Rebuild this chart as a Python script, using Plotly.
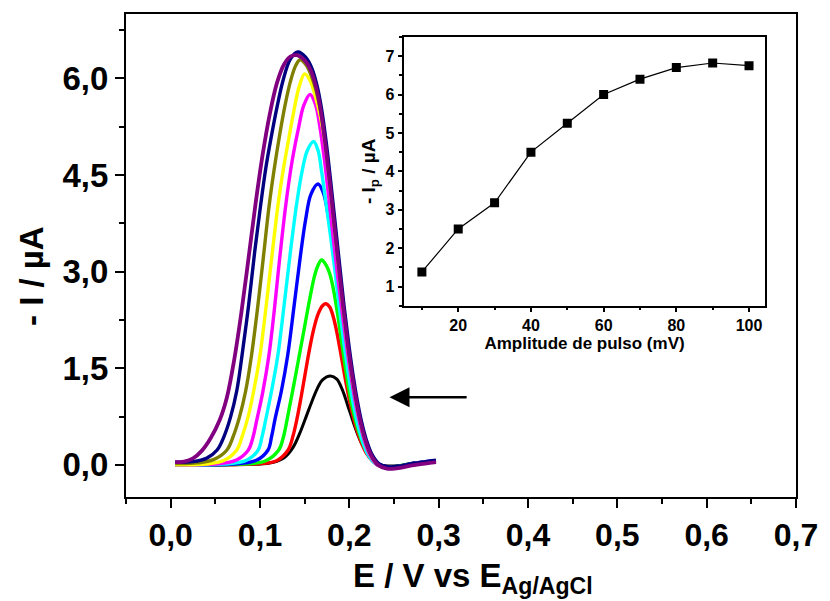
import plotly.graph_objects as go

# ---------------- data ----------------
# DPV curves (E / V, -I / uA); order: black ... purple
black_x = [0.005, 0.060, 0.098, 0.115, 0.127, 0.137, 0.146, 0.152, 0.158, 0.164, 0.170, 0.179,
           0.186, 0.192, 0.198, 0.204, 0.210, 0.216, 0.222, 0.229, 0.237, 0.246, 0.258, 0.272, 0.285, 0.297]
black_y = [0.01, 0.01, 0.01, 0.04, 0.11, 0.27, 0.54, 0.76, 0.98, 1.18, 1.32, 1.38,
           1.33, 1.17, 0.93, 0.68, 0.45, 0.27, 0.13, 0.04, -0.01, -0.02, -0.01, 0.02, 0.04, 0.05]

red_x = [0.005, 0.090, 0.118, 0.1315, 0.137, 0.1415, 0.146, 0.151, 0.1555, 0.160, 0.165, 0.170, 0.174,
         0.178, 0.182, 0.186, 0.190, 0.194, 0.198, 0.203, 0.208, 0.213, 0.219, 0.226, 0.234, 0.243, 0.256, 0.271, 0.285, 0.297]
red_y = [0.00, 0.01, 0.06, 0.23, 0.45, 0.72, 1.05, 1.45, 1.80, 2.10, 2.34, 2.47, 2.50,
         2.45, 2.30, 2.06, 1.76, 1.45, 1.15, 0.82, 0.56, 0.36, 0.18, 0.06, -0.01, -0.03, -0.02, 0.02, 0.04, 0.05]

green_x = [0.005, 0.080, 0.106, 0.121, 0.126, 0.131, 0.137, 0.1436, 0.150, 0.156, 0.161, 0.165, 0.169,
           0.174, 0.178, 0.182, 0.187, 0.192, 0.197, 0.202, 0.207, 0.212, 0.218, 0.225, 0.233, 0.242, 0.255, 0.270, 0.285, 0.297]
green_y = [0.00, 0.01, 0.06, 0.23, 0.42, 0.75, 1.18, 1.67, 2.15, 2.60, 2.93, 3.10, 3.18,
           3.10, 2.97, 2.74, 2.33, 1.85, 1.38, 0.98, 0.68, 0.45, 0.24, 0.08, -0.01, -0.03, -0.02, 0.02, 0.04, 0.05]

blue_x = [0.005, 0.070, 0.096, 0.109, 0.113, 0.117, 0.124, 0.131, 0.138, 0.145, 0.151, 0.157, 0.165,
          0.171, 0.176, 0.180, 0.185, 0.190, 0.195, 0.200, 0.205, 0.210, 0.215, 0.221, 0.229, 0.242, 0.255, 0.270, 0.285, 0.297]
blue_y = [0.00, 0.01, 0.07, 0.23, 0.44, 0.72, 1.15, 1.70, 2.45, 3.22, 3.80, 4.20, 4.36,
          4.22, 3.90, 3.55, 3.05, 2.50, 1.98, 1.50, 1.06, 0.71, 0.44, 0.20, 0.04, -0.03, -0.02, 0.02, 0.05, 0.06]

cyan_x = [0.005, 0.060, 0.085, 0.098, 0.102, 0.1064, 0.113, 0.120, 0.127, 0.134, 0.141, 0.147, 0.153, 0.160,
          0.165, 0.169, 0.174, 0.179, 0.184, 0.189, 0.194, 0.199, 0.204, 0.209, 0.214, 0.220, 0.228, 0.242, 0.255, 0.270, 0.285, 0.297]
cyan_y = [0.00, 0.01, 0.07, 0.23, 0.42, 0.70, 1.15, 1.70, 2.48, 3.30, 4.05, 4.55, 4.88, 5.02,
          4.88, 4.55, 4.05, 3.55, 3.00, 2.42, 1.88, 1.40, 0.98, 0.65, 0.40, 0.18, 0.03, -0.04, -0.03, 0.01, 0.04, 0.05]

magenta_x = [0.005, 0.050, 0.073, 0.087, 0.092, 0.0965, 0.103, 0.110, 0.116, 0.122, 0.129, 0.136, 0.143, 0.149, 0.156,
             0.162, 0.167, 0.172, 0.177, 0.182, 0.187, 0.192, 0.197, 0.202, 0.207, 0.212, 0.217, 0.223, 0.231, 0.242, 0.255, 0.270, 0.285, 0.297]
magenta_y = [0.00, 0.01, 0.07, 0.23, 0.42, 0.70, 1.12, 1.70, 2.40, 3.20, 4.05, 4.72, 5.22, 5.58, 5.75,
             5.60, 5.25, 4.75, 4.15, 3.52, 2.92, 2.36, 1.84, 1.36, 0.95, 0.63, 0.37, 0.15, 0.00, -0.04, -0.03, 0.01, 0.04, 0.05]

yellow_x = [0.005, 0.040, 0.060, 0.074, 0.080, 0.0866, 0.093, 0.100, 0.107, 0.114, 0.120, 0.126, 0.132, 0.138, 0.144, 0.150,
            0.156, 0.162, 0.168, 0.173, 0.178, 0.183, 0.188, 0.193, 0.198, 0.203, 0.208, 0.213, 0.218, 0.224, 0.232, 0.242, 0.255, 0.270, 0.285, 0.297]
yellow_y = [0.00, 0.01, 0.07, 0.23, 0.44, 0.74, 1.15, 1.70, 2.48, 3.32, 4.02, 4.58, 5.05, 5.50, 5.88, 6.07,
            5.97, 5.72, 5.38, 4.98, 4.38, 3.73, 3.08, 2.45, 1.88, 1.38, 0.97, 0.63, 0.37, 0.15, 0.00, -0.04, -0.03, 0.01, 0.04, 0.05]

olive_x = [0.005, 0.030, 0.048, 0.063, 0.070, 0.077, 0.084, 0.0902, 0.097, 0.104, 0.110, 0.116, 0.122, 0.128, 0.134, 0.140, 0.145,
           0.152, 0.158, 0.163, 0.168, 0.173, 0.178, 0.183, 0.188, 0.193, 0.198, 0.203, 0.208, 0.213, 0.218, 0.224, 0.232, 0.242, 0.255, 0.270, 0.285, 0.297]
olive_y = [0.02, 0.03, 0.08, 0.23, 0.44, 0.74, 1.15, 1.67, 2.40, 3.25, 4.00, 4.60, 5.12, 5.58, 5.95, 6.20, 6.29,
           6.20, 6.02, 5.80, 5.48, 5.00, 4.40, 3.75, 3.10, 2.47, 1.90, 1.40, 0.98, 0.64, 0.38, 0.16, 0.00, -0.05, -0.03, 0.01, 0.03, 0.05]

navy_x = [0.005, 0.025, 0.040, 0.052, 0.060, 0.067, 0.074, 0.0796, 0.087, 0.094, 0.1006, 0.107, 0.1127, 0.119, 0.126, 0.134, 0.1425,
          0.151, 0.158, 0.164, 0.169, 0.174, 0.179, 0.184, 0.189, 0.194, 0.199, 0.204, 0.209, 0.214, 0.219, 0.225, 0.233, 0.243, 0.256, 0.271, 0.285, 0.297]
navy_y = [0.04, 0.05, 0.10, 0.23, 0.45, 0.74, 1.15, 1.67, 2.45, 3.30, 4.02, 4.65, 5.10, 5.55, 5.98, 6.30, 6.41,
          6.33, 6.16, 5.88, 5.52, 5.02, 4.42, 3.77, 3.12, 2.48, 1.91, 1.41, 0.99, 0.65, 0.39, 0.17, 0.02, -0.03, -0.02, 0.02, 0.05, 0.07]

purple_x = [0.005, 0.015, 0.025, 0.035, 0.045, 0.055, 0.063, 0.071, 0.079, 0.087, 0.095, 0.103, 0.111, 0.119, 0.127, 0.134, 0.141,
            0.150, 0.157, 0.163, 0.168, 0.173, 0.178, 0.183, 0.188, 0.193, 0.198, 0.203, 0.208, 0.213, 0.218, 0.224, 0.232, 0.242, 0.255, 0.270, 0.285, 0.297]
purple_y = [0.04, 0.05, 0.10, 0.22, 0.42, 0.70, 1.05, 1.62, 2.35, 3.19, 4.05, 4.82, 5.45, 5.93, 6.22, 6.34, 6.36,
            6.28, 6.12, 5.85, 5.50, 5.00, 4.40, 3.75, 3.10, 2.47, 1.90, 1.40, 0.98, 0.64, 0.38, 0.16, 0.00, -0.06, -0.05, -0.01, 0.02, 0.04]

curves = [
    (black_x, black_y, "#000000", 3.0),
    (red_x, red_y, "#FF0000", 3.4),
    (green_x, green_y, "#00FF00", 3.4),
    (blue_x, blue_y, "#0000FF", 3.4),
    (cyan_x, cyan_y, "#00FFFF", 3.4),
    (magenta_x, magenta_y, "#FF00FF", 3.4),
    (yellow_x, yellow_y, "#FFFF00", 3.4),
    (olive_x, olive_y, "#808000", 3.4),
    (navy_x, navy_y, "#000080", 3.4),
    (purple_x, purple_y, "#800080", 3.8),
]

# inset: peak current vs pulse amplitude
amp_mv = [10, 20, 30, 40, 50, 60, 70, 80, 90, 100]
ip_ua = [1.38, 2.50, 3.18, 4.50, 5.25, 6.00, 6.40, 6.70, 6.82, 6.75]

main_xticks = [0.0, 0.1, 0.2, 0.3, 0.4, 0.5, 0.6, 0.7]
main_yticks = [0.0, 1.5, 3.0, 4.5, 6.0]
inset_xticks = [20, 40, 60, 80, 100]
inset_yticks = [1, 2, 3, 4, 5, 6, 7]

FONT = "Arial, Liberation Sans, sans-serif"

fig = go.Figure()
for cx, cy, col, w in curves:
    fig.add_trace(go.Scatter(x=cx, y=cy, mode="lines",
                             line=dict(color=col, width=w, shape="spline", smoothing=1.0),
                             xaxis="x", yaxis="y", showlegend=False, hoverinfo="skip"))

fig.add_trace(go.Scatter(x=amp_mv, y=ip_ua, mode="lines+markers",
                         line=dict(color="black", width=1.2),
                         marker=dict(symbol="square", size=9, color="black"),
                         xaxis="x2", yaxis="y2", showlegend=False))

fig.update_layout(
    width=830, height=601,
    margin=dict(l=126, r=26, t=12, b=104),
    paper_bgcolor="white", plot_bgcolor="white",
    separators=",.",
    showlegend=False,
    font=dict(family=FONT, color="black"),
    xaxis=dict(
        range=[-0.05, 0.7], tickvals=main_xticks, tickformat=".1f",
        showgrid=False, zeroline=False,
        showline=True, linecolor="black", linewidth=2, mirror=True,
        ticks="outside", ticklen=9, tickwidth=2, tickcolor="black",
        minor=dict(dtick=0.05, tick0=0, ticks="outside", ticklen=5, tickwidth=2, tickcolor="black"),
        tickfont=dict(family=FONT, size=32, weight="bold", color="black"),
    ),
    yaxis=dict(
        range=[-0.5, 7.0], tickvals=main_yticks, tickformat=".1f",
        showgrid=False, zeroline=False,
        showline=True, linecolor="black", linewidth=2, mirror=True,
        ticks="outside", ticklen=9, tickwidth=2, tickcolor="black",
        minor=dict(dtick=0.75, tick0=0, ticks="outside", ticklen=5, tickwidth=2, tickcolor="black"),
        tickfont=dict(family=FONT, size=33, weight="bold", color="black"),
    ),
    xaxis2=dict(
        domain=[0.4145, 0.9543], anchor="y2",
        range=[5, 104.5], tickvals=inset_xticks,
        showgrid=False, zeroline=False,
        showline=True, linecolor="black", linewidth=2, mirror=True,
        ticks="outside", ticklen=4, tickwidth=1.5, tickcolor="black",
        minor=dict(dtick=10, tick0=0, ticks="outside", ticklen=2.5, tickwidth=1.5, tickcolor="black"),
        tickfont=dict(family=FONT, size=16, weight="bold", color="black"),
        title=dict(text="Amplitude de pulso (mV)", standoff=3,
                   font=dict(family=FONT, size=17, weight="bold", color="black")),
    ),
    yaxis2=dict(
        domain=[0.3959, 0.9526], anchor="x2",
        range=[0.5, 7.5], tickvals=inset_yticks,
        showgrid=False, zeroline=False,
        showline=True, linecolor="black", linewidth=2, mirror=True,
        ticks="outside", ticklen=4, tickwidth=1.5, tickcolor="black",
        minor=dict(dtick=0.5, tick0=0, ticks="outside", ticklen=2.5, tickwidth=1.5, tickcolor="black"),
        tickfont=dict(family=FONT, size=16, weight="bold", color="black"),
        title=dict(text="- I<sub>p</sub> / µA", standoff=5,
                   font=dict(family=FONT, size=19, weight="bold", color="black")),
    ),
    annotations=[
        dict(x=0.245, y=1.05, ax=0.333, ay=1.05, xref="x", yref="y",
             axref="x", ayref="y", text="", showarrow=True,
             arrowhead=2, arrowsize=1.6, arrowwidth=2.5, arrowcolor="black"),
        dict(text="- I / µA", textangle=-90, showarrow=False,
             xref="paper", yref="paper", x=-0.140, y=0.458,
             xanchor="center", yanchor="middle",
             font=dict(family=FONT, size=33, weight="bold", color="black")),
        dict(text="E / V vs E<sub>Ag/AgCl</sub>", showarrow=False,
             xref="paper", yref="paper", x=0.5184, y=-0.167,
             xanchor="center", yanchor="middle",
             font=dict(family=FONT, size=33, weight="bold", color="black")),
    ],
)

fig.write_html("out.html")
